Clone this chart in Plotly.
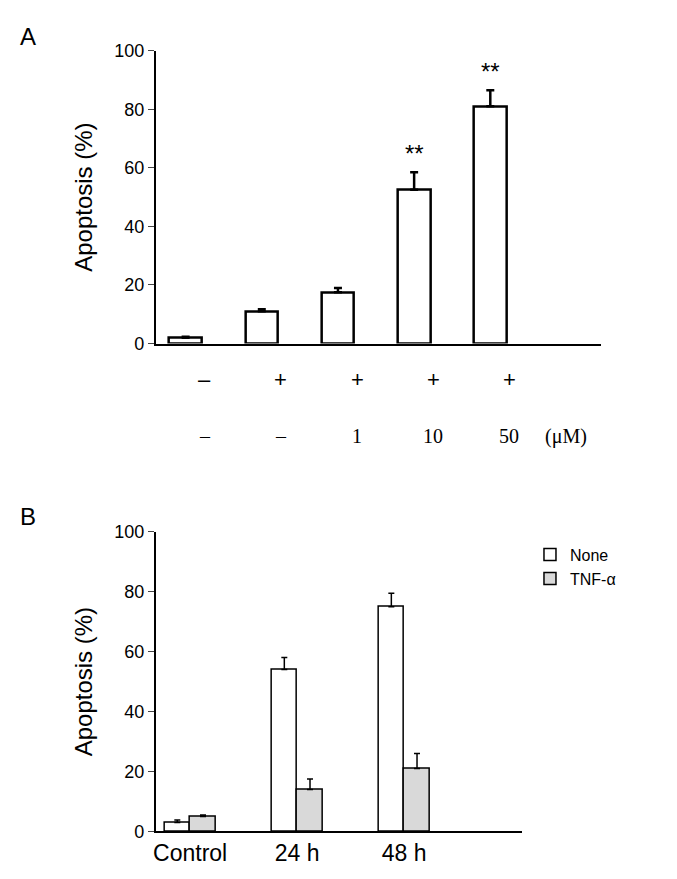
import plotly.graph_objects as go

# Panel A
a_x = [0, 1, 2, 3, 4]
a_vals = [2, 11, 17.5, 52.5, 81]
a_err = [0.3, 0.7, 1.5, 6, 5.5]
a_tnf = ["–", "+", "+", "+", "+"]
a_fluva = ["–", "–", "1", "10", "50"]
a_stars = ["", "", "", "**", "**"]

# Panel B
b_groups = ["Control", "24 h", "48 h"]
b_none = [3, 54, 75]
b_none_err = [0.8, 4, 4.5]
b_tnf = [5, 14, 21]
b_tnf_err = [0.5, 3.5, 5]

fig = go.Figure()
fig.add_trace(go.Bar(x=a_x, y=a_vals, width=0.43, marker=dict(color="white", line=dict(color="black", width=2.5)),
                     error_y=dict(type="data", array=a_err, symmetric=False, arrayminus=[0]*5, color="black", thickness=2.5, width=4),
                     showlegend=False, xaxis="x", yaxis="y"))
gx = list(range(len(b_groups)))
fig.add_trace(go.Bar(x=[g - 0.12 for g in gx], y=b_none, width=0.24, name="None",
                     marker=dict(color="white", line=dict(color="black", width=1.5)),
                     error_y=dict(type="data", array=b_none_err, symmetric=False, arrayminus=[0]*3, color="black", thickness=1.5, width=3),
                     xaxis="x2", yaxis="y2"))
fig.add_trace(go.Bar(x=[g + 0.12 for g in gx], y=b_tnf, width=0.24, name="TNF-α",
                     marker=dict(color="#d9d9d9", line=dict(color="black", width=1.5)),
                     error_y=dict(type="data", array=b_tnf_err, symmetric=False, arrayminus=[0]*3, color="black", thickness=1.5, width=3),
                     xaxis="x2", yaxis="y2"))

ann = []
for i in a_x:
    ann.append(dict(x=i + 0.25, y=0.579, xref="x", yref="paper", text=a_tnf[i], showarrow=False, font=dict(size=22)))
    ann.append(dict(x=i + 0.25, y=0.513, xref="x", yref="paper", text=a_fluva[i], showarrow=False, font=dict(size=20, family="Liberation Serif")))
    if a_stars[i]:
        ann.append(dict(x=i, y=a_vals[i] + a_err[i] + 1, xref="x", yref="y", text=a_stars[i], showarrow=False,
                        yanchor="bottom", font=dict(size=24)))
ann += [
    dict(x=-1.3, y=0.579, xref="x", yref="paper", text="TNF-α", showarrow=False, font=dict(size=21)),
    dict(x=-1.25, y=0.513, xref="x", yref="paper", text="Fluva", showarrow=False, font=dict(size=21)),
    dict(x=5.0, y=0.513, xref="x", yref="paper", text="(μM)", showarrow=False, font=dict(size=20, family="Liberation Serif")),
    dict(x=0.01, y=0.997, xref="paper", yref="paper", text="A", showarrow=False, font=dict(size=24)),
    dict(x=0.01, y=0.42, xref="paper", yref="paper", text="B", showarrow=False, font=dict(size=24)),
]

fig.update_layout(
    width=677, height=879, plot_bgcolor="white", paper_bgcolor="white",
    font=dict(family="Liberation Sans", color="black"),
    margin=dict(l=0, r=0, t=0, b=0),
    annotations=ann, bargap=0,
    xaxis=dict(domain=[0.215, 0.875], range=[-0.39, 5.45], showticklabels=False, showline=True, linecolor="black",
               linewidth=2, ticks="", showgrid=False, zeroline=False, anchor="y"),
    yaxis=dict(domain=[0.621, 0.962], range=[0, 100], dtick=20, showline=True, linecolor="black", linewidth=2,
               ticks="outside", ticklen=6, showgrid=False, zeroline=False, tickfont=dict(size=18),
               title=dict(text="Apoptosis (%)", font=dict(size=24)), anchor="x"),
    xaxis2=dict(domain=[0.215, 0.758], range=[-0.32, 3.1], tickvals=gx, ticktext=b_groups, showline=True,
                linecolor="black", linewidth=2, ticks="", showgrid=False, zeroline=False,
                tickfont=dict(size=23), anchor="y2"),
    yaxis2=dict(domain=[0.053, 0.402], range=[0, 100], dtick=20, showline=True, linecolor="black", linewidth=2,
                ticks="outside", ticklen=6, showgrid=False, zeroline=False, tickfont=dict(size=18),
                title=dict(text="Apoptosis (%)", font=dict(size=24)), anchor="x2"),
    legend=dict(x=0.77, y=0.395, xanchor="left", yanchor="top", font=dict(size=16), tracegroupgap=10),
)

fig.write_html("out.html")
